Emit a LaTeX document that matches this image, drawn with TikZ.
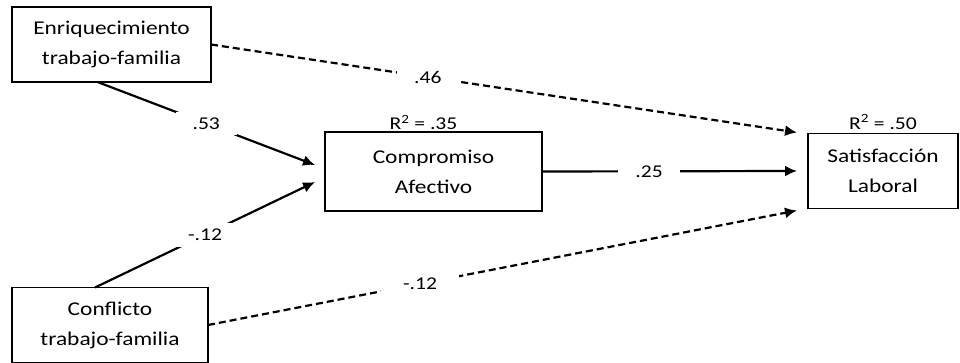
\documentclass[tikz,border=0pt]{standalone}
\usepackage{fontspec}
\setmainfont{Carlito}[FakeStretch=1.2]
\usetikzlibrary{positioning}
\usetikzlibrary{arrows.meta}
\tikzset{
    varbox/.style={
        draw,rectangle,text=black,
        minimum width=#1,minimum height=75pt,
        line width=1.6pt,
        align=center,
        outer sep=0pt,
        inner sep=1pt,
        font=\fontsize{19.5}{30}\selectfont,
        },
    coef/.style={
        fill=white,text=black,
        inner xsep=17pt,inner ysep=6pt,
        font=\fontsize{18}{20}\selectfont,
        },
    rsq/.style={
        inner sep=1pt,
        font=\fontsize{18}{20}\selectfont,
        },
    path/.style={line width=2.2pt,-{Latex[length=12pt,width=11pt]}},
    indirect/.style={path,dashed,dash pattern=on 7pt off 4pt}
    }
\begin{document}
\begin{tikzpicture}[x=1pt,y=-1pt]
    \useasboundingbox (0,0) rectangle (960,363);
    \node[varbox=199pt] (enr) at (111.5,44.5) {Enriquecimiento\\trabajo-familia};
    \node[varbox=196pt] (con) at (110,325) {Conflicto\\trabajo-familia};
    \node[varbox=217pt,minimum height=79pt] (comp) at (433.5,171.5) {Compromiso\\Afectivo};
    \node[varbox=150pt] (sat) at (883,171) {Satisfacción\\Laboral};
    \node[rsq] (r2comp) [above=1pt of comp,xshift=-10pt] {R\textsuperscript{2} = .35};
    \node[rsq] (r2sat) [above=3pt of sat] {R\textsuperscript{2} = .50};
    \draw[path] ([xshift=-14pt]enr.south) -- node[coef] {.53} ([xshift=-10pt,yshift=6.5pt]comp.west);
    \draw[path] ([xshift=-15pt]con.north) -- node[coef] {-.12} ([xshift=-10pt,yshift=-10.5pt]comp.west);
    \draw[path] (comp.east) -- node[coef,pos=.42] {.25} ([xshift=-11pt]sat.west);
    \draw[indirect] (enr.east) -- node[coef,pos=.37] {.46} ([xshift=-11pt,yshift=38.5pt]sat.west);
    \draw[indirect] (con.east) -- node[coef,pos=.36,inner xsep=22pt] {-.12} ([xshift=-11pt,yshift=-39.5pt]sat.west);
\end{tikzpicture}
\end{document}
